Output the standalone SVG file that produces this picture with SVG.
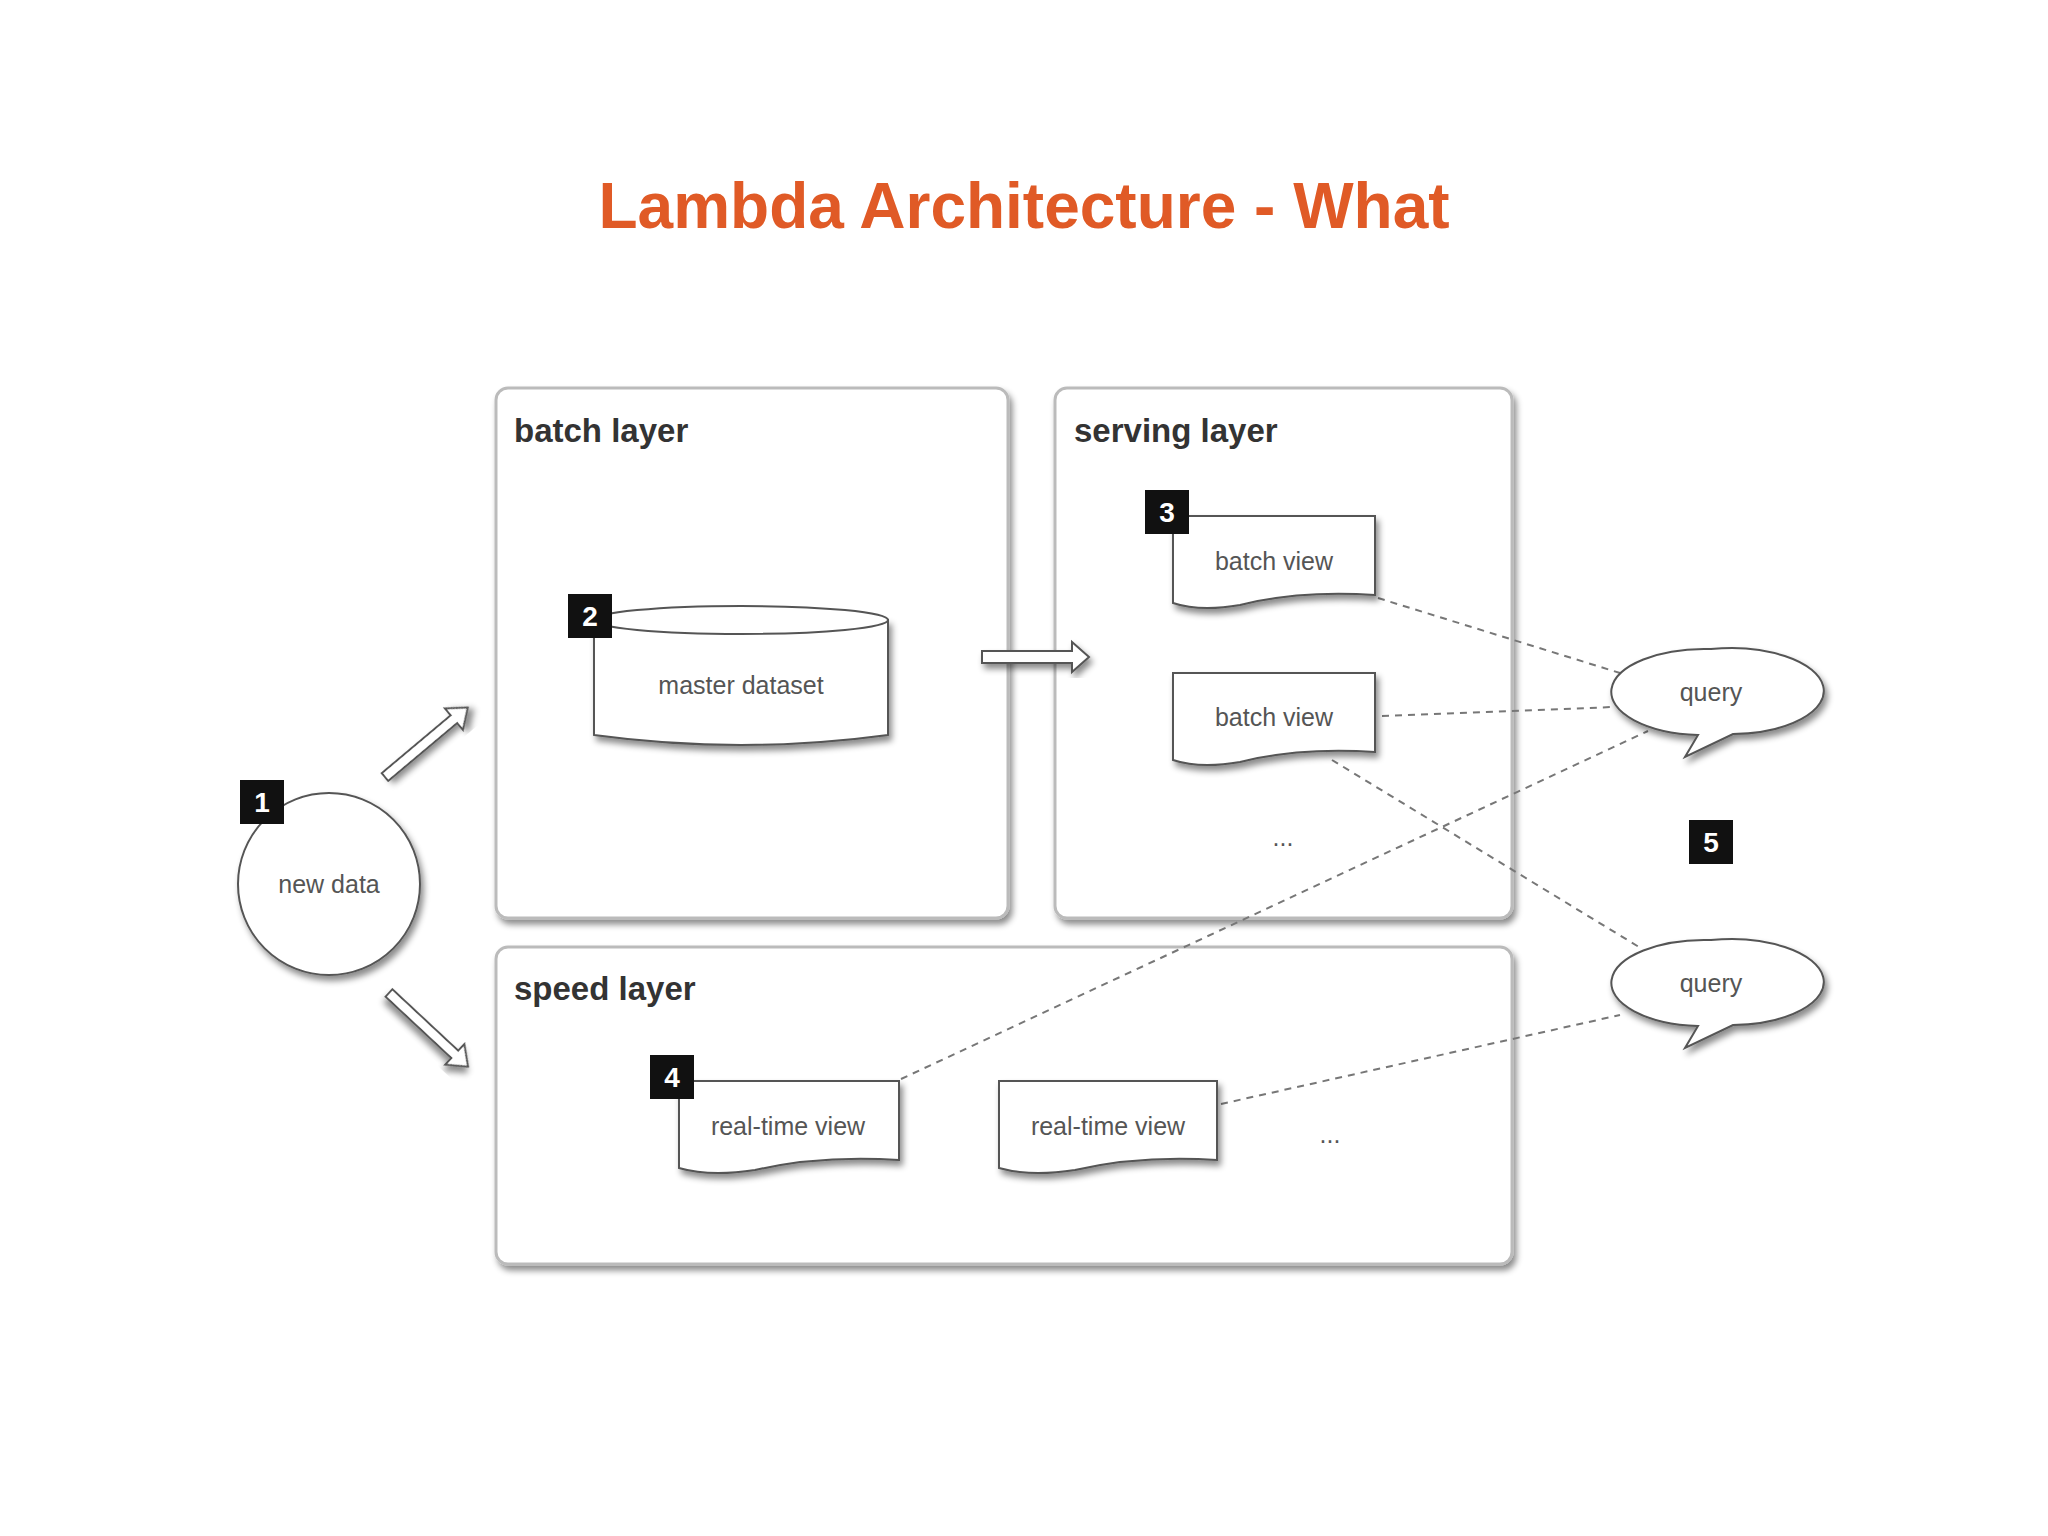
<svg xmlns="http://www.w3.org/2000/svg" width="2048" height="1536" viewBox="0 0 2048 1536">
<defs>
<filter id="sh" x="-10%" y="-10%" width="130%" height="130%"><feDropShadow dx="3" dy="5" stdDeviation="3" flood-color="#000" flood-opacity="0.45"/></filter>
<style>
.box{fill:#fff;stroke:#bbb;stroke-width:3;filter:url(#sh)}
.shape{fill:#fff;stroke:#555;stroke-width:2;filter:url(#sh)}
.lt{font-family:"Liberation Sans",Arial,sans-serif;font-size:33px;font-weight:bold;fill:#333}
.t{font-family:"Liberation Sans",Arial,sans-serif;font-size:25px;fill:#555;text-anchor:middle}
.bd{fill:#111}
.bt{font-family:"Liberation Sans",Arial,sans-serif;font-size:28px;font-weight:bold;fill:#fff;text-anchor:middle}
.dash{stroke:#777;stroke-width:2;stroke-dasharray:7 6;fill:none}
.arr{fill:#fff;stroke:#555;stroke-width:2;filter:url(#sh)}
</style>
</defs>
<rect width="2048" height="1536" fill="#fff"/>
<text x="1024" y="228" text-anchor="middle" font-family="Liberation Sans,Arial,sans-serif" font-weight="bold" font-size="64" fill="#e05a26">Lambda Architecture - What</text>
<g id="batch-layer"><rect class="box" x="496" y="388" width="512" height="530" rx="12"/><text class="lt" x="514" y="442">batch layer</text></g>
<g id="serving-layer"><rect class="box" x="1055" y="388" width="457" height="530" rx="12"/><text class="lt" x="1074" y="442">serving layer</text></g>
<g id="speed-layer"><rect class="box" x="496" y="947" width="1016" height="317" rx="12"/><text class="lt" x="514" y="1000">speed layer</text></g>
<g id="connectors">
<path class="dash" d="M1378 598 L1620 673"/>
<path class="dash" d="M1382 716 L1613 707"/>
<path class="dash" d="M1332 760 L1639 947"/>
<path class="dash" d="M901 1079 L1648 731"/>
<path class="dash" d="M1221 1104 L1620 1015"/>
<path class="arr" d="M982 651 L1072 651 L1072 642 L1089 657 L1072 672 L1072 663 L982 663 Z"/>
<path class="arr" transform="translate(385 777) rotate(-40)" d="M0 -5 L90 -5 L90 -14 L108 0 L90 14 L90 5 L0 5 Z"/>
<path class="arr" transform="translate(389 993) rotate(43)" d="M0 -5 L90 -5 L90 -14 L108 0 L90 14 L90 5 L0 5 Z"/>
</g>
<g id="new-data"><circle class="shape" cx="329" cy="884" r="91"/><text class="t" x="329" y="893">new data</text><rect class="bd" x="240" y="780" width="44" height="44"/><text class="bt" x="262" y="812">1</text></g>
<g id="master-dataset"><path class="shape" d="M594 620 L594 735 Q741 755 888 735 L888 620 Z"/><ellipse cx="741" cy="620" rx="147" ry="14" fill="#fff" stroke="#555" stroke-width="2"/><text class="t" x="741" y="694">master dataset</text><rect class="bd" x="568" y="594" width="44" height="44"/><text class="bt" x="590" y="626">2</text></g>
<g id="batch-view-1"><path class="shape" d="M1173 516 L1375 516 L1375 595 Q1300 590 1240 605 Q1200 612 1173 603 Z"/><text class="t" x="1274" y="570">batch view</text><rect class="bd" x="1145" y="490" width="44" height="44"/><text class="bt" x="1167" y="522">3</text></g>
<g id="batch-view-2"><path class="shape" d="M1173 673 L1375 673 L1375 752 Q1300 747 1240 762 Q1200 769 1173 760 Z"/><text class="t" x="1274" y="726">batch view</text></g>
<text class="t" x="1283" y="846">...</text>
<g id="realtime-view-1"><path class="shape" d="M679 1081 L899 1081 L899 1160 Q820 1155 755 1170 Q710 1177 679 1168 Z"/><text class="t" x="788" y="1135">real-time view</text><rect class="bd" x="650" y="1055" width="44" height="44"/><text class="bt" x="672" y="1087">4</text></g>
<g id="realtime-view-2"><path class="shape" d="M999 1081 L1217 1081 L1217 1160 Q1140 1155 1075 1170 Q1030 1177 999 1168 Z"/><text class="t" x="1108" y="1135">real-time view</text></g>
<text class="t" x="1330" y="1143">...</text>
<g id="query-1"><path class="shape" d="M1711 649 A93 43 0 1 1 1733 734 L1685 757 L1698 735 A93 43 0 0 1 1711 649 Z"/><text class="t" x="1711" y="701">query</text></g>
<g id="query-2"><path class="shape" d="M1711 940 A93 43 0 1 1 1733 1025 L1685 1048 L1698 1026 A93 43 0 0 1 1711 940 Z"/><text class="t" x="1711" y="992">query</text></g>
<g id="badge-5"><rect class="bd" x="1689" y="820" width="44" height="44"/><text class="bt" x="1711" y="852">5</text></g>
</svg>
